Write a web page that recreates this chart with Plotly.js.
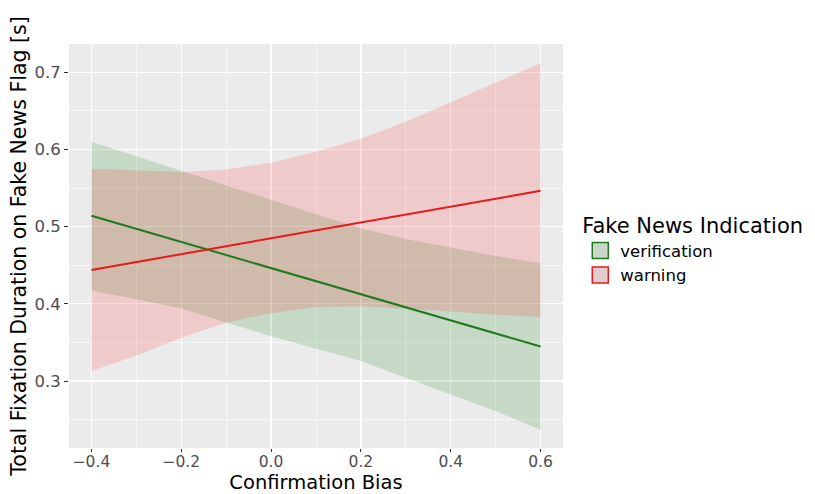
<!DOCTYPE html>
<html>
<head>
<meta charset="utf-8">
<script src="https://cdn.plot.ly/plotly-3.0.1.min.js"></script>
<style>html,body{margin:0;padding:0;background:#fff;}#chart{width:815px;height:494px;}</style>
</head>
<body>
<div id="chart"></div>
<script>
// Confirmation bias values at which the fitted lines and bands were read
var xVals = [-0.4, -0.3, -0.2, -0.1, 0.0, 0.1, 0.2, 0.3, 0.4, 0.5, 0.6];

// verification (green)
var verFit   = [0.5142, 0.4973, 0.4803, 0.4634, 0.4464, 0.4295, 0.4125, 0.3956, 0.3786, 0.3617, 0.3447];
var verUpper = [0.610, 0.591, 0.573, 0.554, 0.535, 0.516, 0.498, 0.484, 0.473, 0.462, 0.453];
var verLower = [0.417, 0.406, 0.394, 0.376, 0.358, 0.342, 0.326, 0.304, 0.282, 0.261, 0.237];

// warning (red)
var warFit   = [0.4439, 0.4542, 0.4644, 0.4747, 0.4850, 0.4953, 0.5055, 0.5158, 0.5261, 0.5363, 0.5466];
var warUpper = [0.575, 0.573, 0.571, 0.574, 0.583, 0.597, 0.614, 0.636, 0.661, 0.686, 0.712];
var warLower = [0.313, 0.333, 0.356, 0.376, 0.388, 0.396, 0.397, 0.394, 0.390, 0.386, 0.383];

var groups = ['verification', 'warning'];
var xTicks = [-0.4, -0.2, 0.0, 0.2, 0.4, 0.6];
var xMinor = [-0.3, -0.1, 0.1, 0.3, 0.5];
var yTicks = [0.3, 0.4, 0.5, 0.6, 0.7];
var yMinor = [0.25, 0.35, 0.45, 0.55, 0.65];

var lineColors = ['#1f7a1f', '#e8191c'];
var fillColors = ['rgba(40,140,40,0.19)', 'rgba(255,30,40,0.16)'];
var keyFill = ['rgba(196,210,196,0.9)', 'rgba(222,200,200,0.9)'];

function band(upper, lower) {
  return {
    x: xVals.concat(xVals.slice().reverse()),
    y: upper.concat(lower.slice().reverse())
  };
}

var bands = [band(verUpper, verLower), band(warUpper, warLower)];
var fits = [verFit, warFit];
var traces = [];

for (var i = 0; i < 2; i++) {
  traces.push({
    type: 'scatter', mode: 'lines', x: bands[i].x, y: bands[i].y,
    fill: 'toself', fillcolor: fillColors[i], line: {width: 0},
    hoverinfo: 'skip', showlegend: false
  });
}
for (var j = 0; j < 2; j++) {
  traces.push({
    type: 'scatter', mode: 'lines', x: xVals, y: fits[j],
    line: {color: lineColors[j], width: 2}, showlegend: false, name: groups[j]
  });
}
// legend entries (key = grey box with coloured border)
for (var k = 0; k < 2; k++) {
  traces.push({
    type: 'scatter', mode: 'markers', x: [null], y: [null], name: groups[k],
    marker: {symbol: 'square', size: 16, color: keyFill[k], line: {color: lineColors[k], width: 1.5}},
    showlegend: true
  });
}

var fontFam = 'DejaVu Sans, Liberation Sans, Arial, sans-serif';

var layout = {
  width: 815, height: 494,
  margin: {l: 69, r: 252, t: 44, b: 46},
  paper_bgcolor: '#ffffff',
  plot_bgcolor: '#EBEBEB',
  font: {family: fontFam},
  xaxis: {
    range: [-0.45, 0.65], tickmode: 'array', tickvals: xTicks, tickformat: '.1f',
    showgrid: true, gridcolor: '#ffffff', gridwidth: 1.2, zeroline: false, showline: false,
    ticks: 'outside', ticklen: 3, tickwidth: 1, tickcolor: '#333333',
    ticklabelstandoff: -4,
    tickfont: {size: 15.5, color: '#4D4D4D', family: fontFam},
    minor: {tickvals: xMinor, showgrid: true, gridcolor: '#ffffff', gridwidth: 0.6, ticks: ''},
    title: {text: 'Confirmation Bias', font: {size: 19.5, color: '#000000', family: fontFam}, standoff: 6}
  },
  yaxis: {
    range: [0.2132, 0.7368], tickmode: 'array', tickvals: yTicks, tickformat: '.1f',
    showgrid: true, gridcolor: '#ffffff', gridwidth: 1.2, zeroline: false, showline: false,
    ticks: 'outside', ticklen: 4, tickwidth: 1, tickcolor: '#333333',
    tickfont: {size: 16.5, color: '#4D4D4D', family: fontFam},
    minor: {tickvals: yMinor, showgrid: true, gridcolor: '#ffffff', gridwidth: 0.6, ticks: ''},
    title: {text: 'Total Fixation Duration on Fake News Flag [s]', font: {size: 20.5, color: '#000000', family: fontFam}, standoff: 2}
  },
  legend: {
    title: {text: 'Fake News Indication', font: {size: 21, color: '#000000', family: fontFam}},
    font: {size: 16.5, color: '#000000', family: fontFam},
    xref: 'container', yref: 'container',
    x: 0.712, y: 0.583, xanchor: 'left', yanchor: 'top',
    bgcolor: 'rgba(0,0,0,0)', borderwidth: 0, tracegroupgap: 0, itemwidth: 30,
    traceorder: 'normal'
  },
  showlegend: true
};

Plotly.newPlot('chart', traces, layout, {displayModeBar: false, staticPlot: true});
</script>
</body>
</html>
